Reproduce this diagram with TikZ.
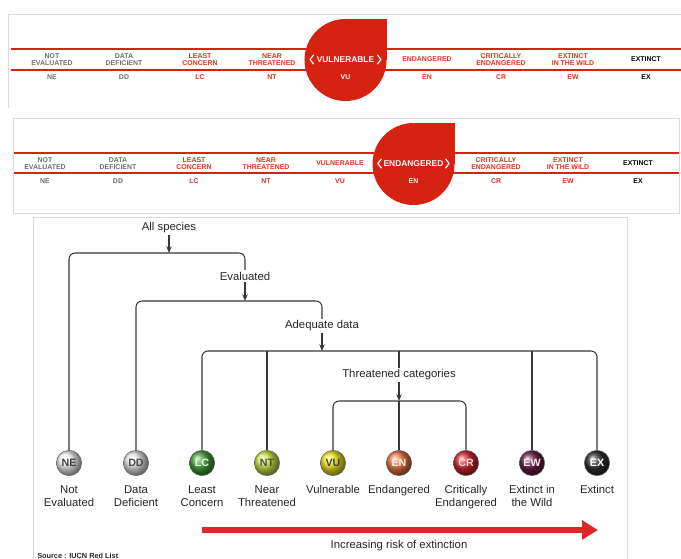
\documentclass[tikz,border=0pt]{standalone}
\usepackage{fontspec}
\setmainfont{Liberation Sans}
\usetikzlibrary{arrows.meta,calc}
\definecolor{iucnred}{RGB}{214,34,16}
\definecolor{redtxt}{RGB}{226,48,30}
\definecolor{graytxt}{RGB}{110,110,110}
\definecolor{boxgray}{RGB}{218,218,218}
\definecolor{treeline}{RGB}{55,55,55}
\definecolor{arrred}{RGB}{222,40,40}
\definecolor{cLC}{RGB}{70,160,60}
\definecolor{cNT}{RGB}{205,230,70}
\definecolor{cVU}{RGB}{240,230,30}
\definecolor{cEN}{RGB}{236,118,66}
\definecolor{cCR}{RGB}{210,36,46}
\definecolor{cEW}{RGB}{104,30,74}
\definecolor{cEX}{RGB}{48,48,48}
\begin{document}
\begin{tikzpicture}[x=0.75pt,y=-0.75pt,
  cat/.style={font=\bfseries\fontsize{5.2}{5.6}\selectfont, align=center, inner sep=0},
  abbr/.style={font=\bfseries\fontsize{5.2}{5.6}\selectfont, inner sep=0},
  bigcat/.style={font=\bfseries\fontsize{6.3}{7}\selectfont, text=white, inner sep=0},
  chev/.style={draw=white, line width=0.9pt, line cap=round, line join=round},
  redrule/.style={draw=iucnred, line width=1.3pt},
  boxline/.style={draw=boxgray, line width=0.6pt},
  lbl/.style={font=\fontsize{8.5}{10}\selectfont, text=black!85, inner sep=1.2pt, fill=white},
  lab/.style={font=\fontsize{8.5}{10.1}\selectfont, text=black!85, align=center, inner sep=0, anchor=north},
  circ/.style={circle, minimum size=19pt, inner sep=0, draw=black!60, line width=0.4pt,
    font=\bfseries\fontsize{8}{8}\selectfont},
  tree/.style={draw=treeline, line width=0.8pt, rounded corners=4.5pt},
  arr/.style={draw=treeline, line width=0.8pt, -{Stealth[length=5pt,width=4pt]}},
  redarrow/.style={draw=arrred, line width=3.8pt, -{Triangle[length=12pt,width=14pt]}}]
\useasboundingbox (0,0) rectangle (681,559);

% ---------------- panel 1 ----------------
\draw[boxline] (681,14) -- (8,14) -- (8,108);
\draw[redrule] (11,49) -- (681,49);
\draw[redrule] (11,70) -- (681,70);
\fill[iucnred] (345.5,60) circle[radius=41];
\fill[iucnred] (345.5,19) rectangle (386.5,60);
\node[cat, text=graytxt] (p1ne) at (52,59.5) {NOT\\EVALUATED};
\node[cat, text=graytxt] (p1dd) at (124,59.5) {DATA\\DEFICIENT};
\node[cat, text=redtxt] (p1lc) at (200,59.5) {LEAST\\CONCERN};
\node[cat, text=redtxt] (p1nt) at (272,59.5) {NEAR\\THREATENED};
\node[bigcat] (p1vu) at (345.5,59.5) {VULNERABLE};
\node[cat, text=redtxt] (p1en) at (427,59.5) {ENDANGERED};
\node[cat, text=redtxt] (p1cr) at (501,59.5) {CRITICALLY\\ENDANGERED};
\node[cat, text=redtxt] (p1ew) at (573,59.5) {EXTINCT\\IN THE WILD};
\node[cat, text=black] (p1ex) at (646,59.5) {EXTINCT};
\draw[chev] ($(p1vu.west)+(-3,-4.5)$) -- ++(-3.5,4.5) -- ++(3.5,4.5);
\draw[chev] ($(p1vu.east)+(3,-4.5)$) -- ++(3.5,4.5) -- ++(-3.5,4.5);
\node[abbr, text=graytxt] (a1ne) at (52,77) {NE};
\node[abbr, text=graytxt] (a1dd) at (124,77) {DD};
\node[abbr, text=redtxt] (a1lc) at (200,77) {LC};
\node[abbr, text=redtxt] (a1nt) at (272,77) {NT};
\node[abbr, text=white] (a1vu) at (345.5,77) {VU};
\node[abbr, text=redtxt] (a1en) at (427,77) {EN};
\node[abbr, text=redtxt] (a1cr) at (501,77) {CR};
\node[abbr, text=redtxt] (a1ew) at (573,77) {EW};
\node[abbr, text=black] (a1ex) at (646,77) {EX};

% ---------------- panel 2 ----------------
\draw[boxline] (13,118) rectangle (679,213);
\draw[redrule] (14,153) -- (679,153);
\draw[redrule] (14,173) -- (679,173);
\fill[iucnred] (413.5,164) circle[radius=41];
\fill[iucnred] (413.5,123) rectangle (454.5,164);
\node[cat, text=graytxt] (p2ne) at (45,163.5) {NOT\\EVALUATED};
\node[cat, text=graytxt] (p2dd) at (118,163.5) {DATA\\DEFICIENT};
\node[cat, text=redtxt] (p2lc) at (194,163.5) {LEAST\\CONCERN};
\node[cat, text=redtxt] (p2nt) at (266,163.5) {NEAR\\THREATENED};
\node[cat, text=redtxt] (p2vu) at (340,163.5) {VULNERABLE};
\node[bigcat] (p2en) at (413.5,163.5) {ENDANGERED};
\node[cat, text=redtxt] (p2cr) at (496,163.5) {CRITICALLY\\ENDANGERED};
\node[cat, text=redtxt] (p2ew) at (568,163.5) {EXTINCT\\IN THE WILD};
\node[cat, text=black] (p2ex) at (638,163.5) {EXTINCT};
\draw[chev] ($(p2en.west)+(-2,-4.5)$) -- ++(-3.5,4.5) -- ++(3.5,4.5);
\draw[chev] ($(p2en.east)+(2,-4.5)$) -- ++(3.5,4.5) -- ++(-3.5,4.5);
\node[abbr, text=graytxt] (a2ne) at (45,181) {NE};
\node[abbr, text=graytxt] (a2dd) at (118,181) {DD};
\node[abbr, text=redtxt] (a2lc) at (194,181) {LC};
\node[abbr, text=redtxt] (a2nt) at (266,181) {NT};
\node[abbr, text=redtxt] (a2vu) at (340,181) {VU};
\node[abbr, text=white] (a2en) at (413.5,181) {EN};
\node[abbr, text=redtxt] (a2cr) at (496,181) {CR};
\node[abbr, text=redtxt] (a2ew) at (568,181) {EW};
\node[abbr, text=black] (a2ex) at (638,181) {EX};

% ---------------- panel 3 ----------------
\draw[boxline] (33,562) -- (33,217) -- (627,217) -- (627,562);

\node[lbl] (alls) at (169,228) {All species};
\node[lbl] (eval) at (245,276) {Evaluated};
\node[lbl] (adeq) at (322,326) {Adequate data};
\node[lbl] (thr) at (399,375) {Threatened categories};

\node[circ, ball color=gray!8, text=black!75] (ne) at (69,463) {NE};
\node[circ, ball color=gray!18, text=black!70] (dd) at (136,463) {DD};
\node[circ, ball color=cLC, text=green!15] (lc) at (202,463) {LC};
\node[circ, ball color=cNT, text=black!70] (nt) at (267,463) {NT};
\node[circ, ball color=cVU, text=black!75] (vu) at (333,463) {VU};
\node[circ, ball color=cEN, text=white!90!orange] (en) at (399,463) {EN};
\node[circ, ball color=cCR, text=red!15] (cr) at (466,463) {CR};
\node[circ, ball color=cEW, text=white!90!purple] (ew) at (532,463) {EW};
\node[circ, ball color=cEX, text=white!90] (ex) at (597,463) {EX};

\node[lab] (tne) at (69,485) {Not\\Evaluated};
\node[lab] (tdd) at (136,485) {Data\\Deficient};
\node[lab] (tlc) at (202,485) {Least\\Concern};
\node[lab] (tnt) at (267,485) {Near\\Threatened};
\node[lab] (tvu) at (333,485) {Vulnerable};
\node[lab] (ten) at (399,485) {Endangered};
\node[lab] (tcr) at (466,485) {Critically\\Endangered};
\node[lab] (tew) at (532,485) {Extinct in\\the Wild};
\node[lab] (tex) at (597,485) {Extinct};

\coordinate (b1) at (169,253);
\coordinate (b2) at (245,301);
\coordinate (b3) at (322,351);
\coordinate (b4) at (399,401);

\draw[tree] (ne.north) |- (b1) -| (eval.north);
\draw[arr] (alls.south) -- (b1);
\draw[tree] (dd.north) |- (b2) -| (adeq.north);
\draw[arr] (eval.south) -- (b2);
\draw[tree] (lc.north) |- (b3) -| (ex.north);
\draw[arr] (adeq.south) -- (b3);
\draw[tree] (nt.north) -- (nt |- b3);
\draw[tree] (ew.north) -- (ew |- b3);
\draw[tree] (thr.north) -- (thr |- b3);
\draw[tree] (vu.north) |- (b4) -| (cr.north);
\draw[arr] (thr.south) -- (b4);
\draw[tree] (b4) -- (en.north);

\coordinate (ra) at (202,530);
\coordinate (rb) at (598,530);
\draw[redarrow] (ra) -- (rb);
\node[lbl] (risk) at (399,546) {Increasing risk of extinction};
\node[anchor=west, inner sep=0, font=\bfseries\fontsize{5.5}{6}\selectfont, text=black!85] (src) at (37,555.5) {Source : IUCN Red List};
\end{tikzpicture}
\end{document}
